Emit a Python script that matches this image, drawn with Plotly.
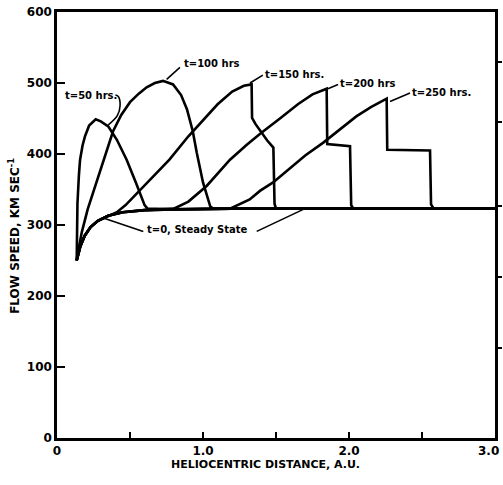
import plotly.graph_objects as go

# ---------------- data (heliocentric distance in AU, flow speed km/s) ----------------
steady_x = [0.135, 0.16, 0.19, 0.23, 0.28, 0.35, 0.45, 0.6, 0.8, 1.2, 2.0, 3.0]
steady_v = [250, 270, 285, 297, 306, 313, 318, 321, 322, 323, 323, 323]

t50_x = [0.135, 0.137, 0.14, 0.15, 0.158, 0.175, 0.192, 0.22, 0.265, 0.3, 0.351, 0.41,
         0.477, 0.54, 0.6, 0.62, 0.8, 1.2, 2.0, 3.0]
t50_v = [250, 290, 330, 370, 392, 412, 425, 440, 449, 446, 439, 420,
         392, 360, 328, 323, 322, 323, 323, 323]

t100_x = [0.135, 0.17, 0.21, 0.25, 0.29, 0.33, 0.384, 0.44, 0.5, 0.56, 0.614, 0.67, 0.726,
          0.795, 0.85, 0.89, 0.93, 0.957, 1.0, 1.05, 1.07, 1.2, 2.0, 3.0]
t100_v = [252, 290, 322, 347, 370, 395, 432, 455, 473, 485, 494, 500, 503,
          498, 483, 463, 432, 402, 360, 326, 323, 323, 323, 323]

t150_x = [0.135, 0.16, 0.19, 0.23, 0.28, 0.35, 0.41, 0.47, 0.55, 0.64, 0.77, 0.9, 1.0,
          1.1, 1.2, 1.28, 1.333, 1.336, 1.36, 1.402, 1.44, 1.482, 1.49, 1.5, 2.0, 3.0]
t150_v = [250, 270, 285, 297, 306, 313, 318, 328, 345, 364, 392, 425, 447,
          470, 488, 496, 498, 451, 442, 430, 419, 409, 330, 323, 323, 323]

t200_x = [0.135, 0.16, 0.19, 0.23, 0.28, 0.35, 0.45, 0.6, 0.8, 0.9, 1.025, 1.185, 1.3,
          1.4, 1.527, 1.65, 1.75, 1.847, 1.851, 1.9, 2.007, 2.015, 2.03, 3.0]
t200_v = [250, 270, 285, 297, 306, 313, 318, 321, 323, 333, 355, 392, 413,
          430, 450, 470, 484, 492, 414, 413, 411, 328, 323, 323]

t250_x = [0.135, 0.16, 0.19, 0.23, 0.28, 0.35, 0.45, 0.6, 0.8, 1.0, 1.185, 1.32, 1.39,
          1.48, 1.6, 1.7, 1.824, 1.95, 2.05, 2.15, 2.258, 2.262, 2.35, 2.45, 2.555,
          2.562, 2.58, 3.0]
t250_v = [250, 270, 285, 297, 306, 313, 318, 321, 322, 323, 323, 336, 348,
          360, 381, 398, 416, 437, 453, 466, 478, 406, 406, 406, 405,
          329, 323, 323]

x_tickvals = [0, 1.0, 2.0]
x_ticktext = ["0", "1.0", "2.0"]
x_last_val = 3.0
x_last_text = "3.0"
y_tickvals = [0, 100, 200, 300, 400, 500, 600]
y_ticktext = ["0", "100", "200", "300", "400", "500", "600"]
y2_tickvals = [127, 227, 327, 445, 529]

# curve labels: text, left x, y
label_text = ["t=50 hrs.", "t=100 hrs", "t=150 hrs.", "t=200 hrs", "t=250 hrs.", "t=0, Steady State"]
label_x = [0.041, 0.853, 1.413, 1.927, 2.418, 0.603]
label_y = [483, 527, 512, 500, 487, 294]
# leader lines (polyline points)
leaders = [
    ([0.40, 0.42, 0.432, 0.413, 0.351], [483, 481, 468, 454, 441]),
    ([0.842, 0.751], [522, 505]),
    ([1.41, 1.322], [511, 500]),
    ([1.925, 1.856], [498, 492]),
    ([2.418, 2.281], [486, 474]),
    ([0.591, 0.317], [291, 310]),
    ([1.368, 1.687], [291, 322]),
]

FONT = "DejaVu Sans"
LW = 2.6

fig = go.Figure()
for xs, vs in [(steady_x, steady_v), (t50_x, t50_v), (t100_x, t100_v),
               (t150_x, t150_v), (t200_x, t200_v), (t250_x, t250_v)]:
    fig.add_trace(go.Scatter(x=xs, y=vs, mode="lines",
                             line=dict(color="black", width=LW),
                             hoverinfo="skip", showlegend=False))

for lx, ly in leaders:
    fig.add_trace(go.Scatter(x=lx, y=ly, mode="lines", line=dict(color="black", width=1.6, shape="spline"),
                             hoverinfo="skip", showlegend=False))

# dummy trace to activate the right-hand axis
fig.add_trace(go.Scatter(x=[None], y=[None], yaxis="y2", showlegend=False, hoverinfo="skip"))

for t, x, y in zip(label_text, label_x, label_y):
    fig.add_annotation(x=x, y=y, text=t, showarrow=False, xanchor="left", yanchor="middle",
                       font=dict(family=FONT, size=10, color="black", weight="bold"))

# last x tick label, pulled inward so it stays inside the page
fig.add_annotation(x=x_last_val, xref="x", yref="paper", y=-0.031, text=x_last_text,
                   showarrow=False, xanchor="right", yanchor="middle", xshift=6,
                   font=dict(family=FONT, size=12, color="black", weight="bold"))

fig.add_annotation(xref="paper", yref="paper", x=0.475, y=-0.063,
                   text="HELIOCENTRIC DISTANCE, A.U.", showarrow=False,
                   xanchor="center", yanchor="middle",
                   font=dict(family=FONT, size=11, color="black", weight="bold"))
fig.add_annotation(xref="paper", yref="paper", x=-0.1, y=0.475,
                   text="FLOW SPEED, KM SEC<sup>-1</sup>", showarrow=False, textangle=-90,
                   xanchor="center", yanchor="middle",
                   font=dict(family=FONT, size=12, color="black", weight="bold"))

fig.update_layout(
    width=503, height=485,
    margin=dict(l=57, r=8, t=12, b=47, autoexpand=False),
    paper_bgcolor="white", plot_bgcolor="white",
    xaxis=dict(range=[0, 3.0], showgrid=False, zeroline=False, showline=True,
               linecolor="black", linewidth=2.5, mirror=True, automargin=False,
               ticks="inside", ticklen=6, tickwidth=2, tickcolor="black",
               tickvals=x_tickvals, ticktext=x_ticktext,
               minor=dict(ticks="inside", ticklen=6, tickwidth=2, tickcolor="black",
                          dtick=0.5, tick0=0, showgrid=False),
               tickfont=dict(family=FONT, size=12, color="black", weight="bold")),
    yaxis=dict(range=[0, 600], showgrid=False, zeroline=False, showline=True,
               linecolor="black", linewidth=2.5, mirror=True, automargin=False,
               ticks="inside", ticklen=8, tickwidth=2, tickcolor="black",
               tickvals=y_tickvals, ticktext=y_ticktext, ticklabeloverflow="allow",
               tickfont=dict(family=FONT, size=12, color="black", weight="bold")),
    yaxis2=dict(range=[0, 600], overlaying="y", side="right", showgrid=False,
                zeroline=False, showline=False, ticks="outside", ticklen=6,
                tickwidth=2, tickcolor="black", tickvals=y2_tickvals,
                showticklabels=False, automargin=False),
)

fig.write_html("out.html")
